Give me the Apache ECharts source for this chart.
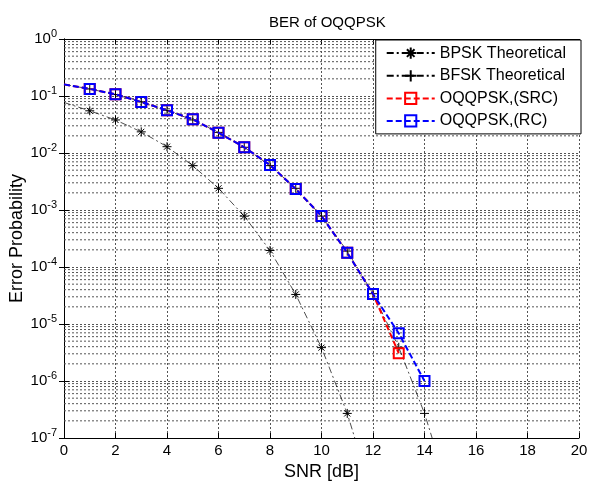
<!DOCTYPE html>
<html><head><meta charset="utf-8">
<script src="https://cdn.jsdelivr.net/npm/echarts@6/dist/echarts.min.js"></script>
<style>html,body{margin:0;padding:0;background:#fff}#c{width:590px;height:485px}</style>
</head><body><div id="c"></div>
<script>
// ---- data ----
const snrBPSK = [0,1,2,3,4,5,6,7,8,9,10,11,12];
const berBPSK = [0.077,0.055,0.038,0.0235,0.0129,0.006,0.0024,7.8e-4,1.95e-4,3.3e-5,3.85e-6,2.7e-7,9e-9];
const snrBFSK = [0,1,2,3,4,5,6,7,8,9,10,11,12,13,14,15];
const berBFSK = [0.16,0.133,0.106,0.079,0.056,0.038,0.023,0.0126,0.006,0.0024,7.8e-4,1.9e-4,3.4e-5,3.9e-6,2.7e-7,9.5e-9];
const snrSRC = [0,1,2,3,4,5,6,7,8,9,10,11,12,13];
const berSRC = [0.16,0.133,0.107,0.0785,0.056,0.039,0.0227,0.0126,0.00615,0.00234,7.85e-4,1.78e-4,3.36e-5,3.06e-6];
const snrRC = [0,1,2,3,4,5,6,7,8,9,10,11,12,13,14];
const berRC = [0.16,0.133,0.107,0.0785,0.056,0.039,0.0227,0.0126,0.00615,0.00234,7.85e-4,1.78e-4,3.36e-5,6.86e-6,1.0e-6];
const seriesNames = ['BPSK Theoretical','BFSK Theoretical','OQQPSK,(SRC)','OQQPSK,(RC)'];
const titleText = 'BER of OQQPSK';
const xName = 'SNR [dB]';
const yName = 'Error Probability';
const xMin = 0, xMax = 20, xStep = 2;
const yMin = 1e-7, yMax = 1;

const FONT = '"Liberation Sans", Arial, sans-serif';

function pts(xs, ys) {
  return xs.map((x, i) => i === 0 ? { value: [x, ys[i]], symbol: 'none' } : [x, ys[i]]);
}
// minor log grid lines (2..9 x 10^d), drawn as one broken line through the axes
const minorGrid = [];
for (let d = -7; d < 0; d++) {
  for (let k = 2; k <= 9; k++) {
    const v = k * Math.pow(10, d);
    minorGrid.push([xMin, v], [xMax, v], '-');
  }
}
const gridStyle = { color: '#555', type: [2, 2], width: 1 };
const asterisk = 'path://M5 0L5 10M0 5L10 5M1.6 1.6L8.4 8.4M1.6 8.4L8.4 1.6';
const plus = 'path://M5 0L5 10M0 5L10 5';

const chart = echarts.init(document.getElementById('c'), null, { renderer: 'canvas' });
const yLabel = {
  margin: 7,
  formatter: v => '{b|10}{s|' + Math.round(Math.log10(v)) + '}',
  rich: {
    b: { fontSize: 15, fontFamily: FONT, color: '#000' },
    s: { fontSize: 11, fontFamily: FONT, color: '#000', padding: [0, 0, 10, 0] }
  }
};
chart.setOption({
  animation: false,
  backgroundColor: '#fff',
  title: {
    text: titleText, left: 264, top: 10,
    textStyle: { fontFamily: FONT, fontSize: 15, fontWeight: 'normal', color: '#000' }
  },
  legend: {
    right: 9, top: 40, orient: 'vertical', align: 'left',
    backgroundColor: '#fff', borderColor: '#000', borderWidth: 1,
    padding: [5, 15, 5, 10], itemGap: 6.5, itemWidth: 48, itemHeight: 14,
    textStyle: { fontFamily: FONT, fontSize: 16, color: '#000' },
    data: seriesNames
  },
  grid: { left: 64, top: 39, width: 515, height: 399, containLabel: false, outerBoundsMode: 'none' },
  xAxis: [{
    type: 'value', min: xMin, max: xMax, interval: xStep,
    name: xName, nameLocation: 'middle', nameGap: 25, nameMoveOverlap: false,
    nameTextStyle: { fontFamily: FONT, fontSize: 18, color: '#000' },
    axisLine: { lineStyle: { color: '#000', width: 1 } },
    axisTick: { inside: true, length: 5, lineStyle: { color: '#000' } },
    axisLabel: { margin: 5, fontFamily: FONT, fontSize: 15, color: '#000' },
    splitLine: { show: true, lineStyle: gridStyle }
  }, {
    type: 'value', position: 'top', min: xMin, max: xMax, interval: xStep,
    axisLine: { lineStyle: { color: '#000', width: 1 } },
    axisTick: { inside: true, length: 5, lineStyle: { color: '#000' } },
    axisLabel: { show: false }, splitLine: { show: false }
  }],
  yAxis: [{
    type: 'log', logBase: 10, min: yMin, max: yMax, interval: 1,
    name: yName, nameLocation: 'middle', nameGap: 38, nameMoveOverlap: false,
    nameTextStyle: { fontFamily: FONT, fontSize: 18, color: '#000' },
    axisLine: { show: true, lineStyle: { color: '#000', width: 1 } },
    axisTick: { show: true, inside: true, length: 5, lineStyle: { color: '#000' } },
    axisLabel: yLabel,
    splitLine: { show: true, lineStyle: gridStyle }
  }, {
    type: 'log', logBase: 10, min: yMin, max: yMax, interval: 1, position: 'right',
    axisLine: { show: true, lineStyle: { color: '#000', width: 1 } },
    axisTick: { show: true, inside: true, length: 5, lineStyle: { color: '#000' } },
    axisLabel: { show: false }, splitLine: { show: false }
  }],
  series: [{
    name: '_minorGrid', type: 'line', data: minorGrid, symbol: 'none',
    silent: true, connectNulls: false, z: 1,
    lineStyle: gridStyle, emphasis: { disabled: true }, tooltip: { show: false }
  }, {
    name: seriesNames[0], type: 'line', data: pts(snrBPSK, berBPSK),
    color: '#000', symbol: asterisk, symbolSize: 9,
    itemStyle: { color: 'none', borderColor: '#000', borderWidth: 1 },
    lineStyle: { color: '#000', width: 0.7, type: [7, 3, 2, 3] },
    clip: true, z: 3
  }, {
    name: seriesNames[1], type: 'line', data: pts(snrBFSK, berBFSK),
    color: '#000', symbol: plus, symbolSize: 9,
    itemStyle: { color: 'none', borderColor: '#000', borderWidth: 1 },
    lineStyle: { color: '#000', width: 0.7, type: [7, 3, 2, 3] },
    clip: true, z: 3
  }, {
    name: seriesNames[2], type: 'line', data: pts(snrSRC, berSRC),
    color: '#ff0000', symbol: 'rect', symbolSize: 10,
    itemStyle: { color: 'rgba(0,0,0,0)', borderColor: '#ff0000', borderWidth: 2 },
    lineStyle: { color: '#ff0000', width: 2, type: [6, 3] },
    clip: true, z: 4
  }, {
    name: seriesNames[3], type: 'line', data: pts(snrRC, berRC),
    color: '#0000ff', symbol: 'rect', symbolSize: 10,
    itemStyle: { color: 'rgba(0,0,0,0)', borderColor: '#0000ff', borderWidth: 2 },
    lineStyle: { color: '#0000ff', width: 2, type: [6, 3] },
    clip: true, z: 5
  }]
});
</script>
</body></html>
